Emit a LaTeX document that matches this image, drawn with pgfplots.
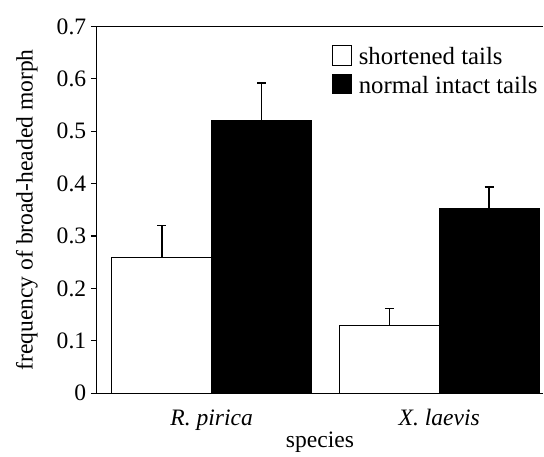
\documentclass[border=0pt]{standalone}
\usepackage{pgfplots}
\pgfplotsset{compat=1.18}
\usepackage{fontspec}
\setmainfont{Liberation Serif}
\begin{document}
\fontsize{11.8}{13}\selectfont
\begin{tikzpicture}
\begin{axis}[
  scale only axis,
  width=223.5pt, height=183.75pt,
  xmin=-0.5044, xmax=1.456,
  ymin=0, ymax=0.7,
  axis x line*=bottom,
  axis y line*=left,
  axis line style={line width=0.6pt},
  ybar=0pt,
  bar width=50pt,
  xtick={0,1},
  xticklabels={\textit{R. pirica},\textit{X. laevis}},
  xtick style={draw=none},
  x tick label style={yshift=-1pt},
  ytick={0,0.1,0.2,0.3,0.4,0.5,0.6,0.7},
  yticklabels={\textrm{0},\textrm{0.1},\textrm{0.2},\textrm{0.3},\textrm{0.4},\textrm{0.5},\textrm{0.6},\textrm{0.7}},
  yticklabel style={xshift=1.8pt},
  ytick style={line width=0.6pt, black},
  tick align=outside,
  major tick length=3pt,
  ylabel={frequency of broad-headed morph},
  xlabel={species},
  xlabel style={yshift=7.3pt},
  ylabel style={yshift=1.4pt},
  legend style={at={(0.526,0.955)}, anchor=north west, draw=none, fill=none, inner sep=0pt, row sep=0pt,
    font=\fontsize{12.4}{13}\selectfont, /tikz/every odd column/.append style={column sep=1.5pt}},
  legend cell align=left,
  legend image code/.code={\draw[#1, line width=0.5pt] (0pt,-3.8pt) rectangle (9.5pt,6.2pt);},
  error bars/y dir=plus,
  error bars/y explicit,
  error bars/error bar style={line width=0.8pt, black},
  error bars/error mark options={rotate=90, mark size=2.2pt, line width=0.8pt, black},
]
\addplot[draw=black, fill=white, line width=0.5pt] coordinates {(0,0.26) +- (0,0.06) (1,0.13) +- (0,0.032)};
\addplot[draw=black, fill=black, line width=0.5pt] coordinates {(0,0.52) +- (0,0.072) (1,0.352) +- (0,0.042)};
\legend{shortened tails, normal intact tails}
\draw[line width=0.6pt] (rel axis cs:0,1) -- (rel axis cs:1,1);
\coordinate (ll) at (rel axis cs:0,0);
\coordinate (ur) at (rel axis cs:1,1);
\end{axis}
\pgfresetboundingbox
\path ([shift={(-48.5pt,-31.5pt)}]ll) rectangle ([shift={(0.5pt,13.25pt)}]ur);
\end{tikzpicture}
\end{document}
